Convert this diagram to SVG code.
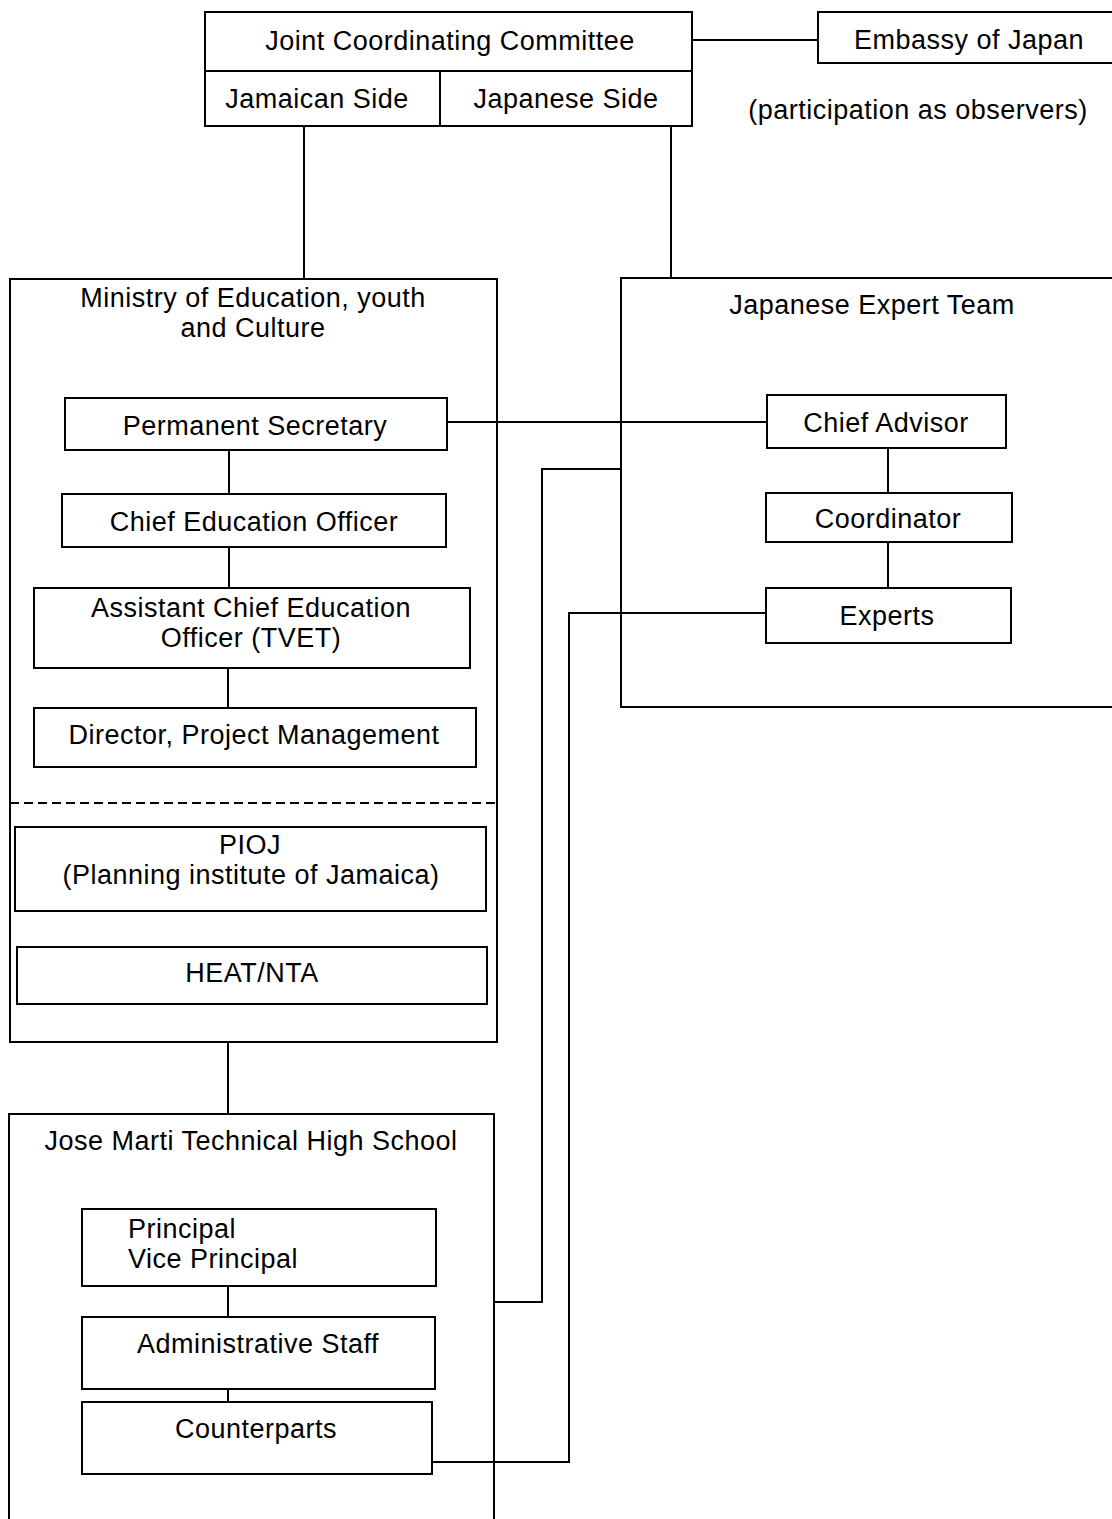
<svg xmlns="http://www.w3.org/2000/svg" width="1112" height="1519" viewBox="0 0 1112 1519">
<style>
rect,path,line{fill:none;stroke:#000;stroke-width:2}
text{font-family:"Liberation Sans",Arial,sans-serif;font-size:27px;letter-spacing:0.5px;fill:#000;text-anchor:middle}
.l{text-anchor:start}
.d{stroke-dasharray:9 5}
</style>
<rect x="0" y="0" width="1112" height="1519" fill="#fff" style="fill:#fff;stroke:none"/>
<g id="connectors">
<path d="M692,40 H818"/>
<path d="M304,126 V279"/>
<path d="M671,126 V278"/>
<path d="M447,422 H767"/>
<path d="M229,450 V494"/>
<path d="M229,547 V588"/>
<path d="M228,668 V708"/>
<path d="M228,1042 V1114"/>
<path d="M888,448 V493"/>
<path d="M888,542 V588"/>
<path d="M228,1286 V1317"/>
<path d="M228,1389 V1402"/>
<path d="M494,1302 H542 V469 H620"/>
<path d="M766,613 H569 V1462 H432"/>
</g>
<g id="jcc">
<rect x="205" y="12" width="487" height="114"/>
<line x1="205" y1="71" x2="692" y2="71"/>
<line x1="440" y1="71" x2="440" y2="126"/>
<text x="450" y="50">Joint Coordinating Committee</text>
<text x="317" y="108">Jamaican Side</text>
<text x="566" y="108">Japanese Side</text>
</g>
<g id="embassy">
<rect x="818" y="12" width="310" height="51"/>
<text x="969" y="49">Embassy of Japan</text>
<text x="918" y="119">(participation as observers)</text>
</g>
<g id="ministry">
<rect x="10" y="279" width="487" height="763"/>
<text x="253" y="307">Ministry of Education, youth</text>
<text x="253" y="337">and Culture</text>
<line class="d" x1="10" y1="803" x2="497" y2="803"/>
</g>
<g id="perm-sec">
<rect x="65" y="398" width="382" height="52"/>
<text x="255" y="435">Permanent Secretary</text>
</g>
<g id="ceo">
<rect x="62" y="494" width="384" height="53"/>
<text x="254" y="531">Chief Education Officer</text>
</g>
<g id="aceo">
<rect x="34" y="588" width="436" height="80"/>
<text x="251" y="617">Assistant Chief Education</text>
<text x="251" y="647">Officer (TVET)</text>
</g>
<g id="director">
<rect x="34" y="708" width="442" height="59"/>
<text x="254" y="744">Director, Project Management</text>
</g>
<g id="pioj">
<rect x="15" y="827" width="471" height="84"/>
<text x="250" y="854">PIOJ</text>
<text x="251" y="884">(Planning institute of Jamaica)</text>
</g>
<g id="heat">
<rect x="17" y="947" width="470" height="57"/>
<text x="252" y="982">HEAT/NTA</text>
</g>
<g id="jet">
<path d="M1130,278 H621 V707 H1130"/>
<text x="872" y="314">Japanese Expert Team</text>
</g>
<g id="chief-advisor">
<rect x="767" y="395" width="239" height="53"/>
<text x="886" y="432">Chief Advisor</text>
</g>
<g id="coordinator">
<rect x="766" y="493" width="246" height="49"/>
<text x="888" y="528">Coordinator</text>
</g>
<g id="experts">
<rect x="766" y="588" width="245" height="55"/>
<text x="887" y="625">Experts</text>
</g>
<g id="school">
<path d="M9,1530 V1114 H494 V1530"/>
<text x="251" y="1150">Jose Marti Technical High School</text>
</g>
<g id="principal">
<rect x="82" y="1209" width="354" height="77"/>
<text class="l" x="128" y="1238">Principal</text>
<text class="l" x="128" y="1268">Vice Principal</text>
</g>
<g id="admin">
<rect x="82" y="1317" width="353" height="72"/>
<text x="258" y="1353">Administrative Staff</text>
</g>
<g id="counterparts">
<rect x="82" y="1402" width="350" height="72"/>
<text x="256" y="1438">Counterparts</text>
</g>
</svg>
